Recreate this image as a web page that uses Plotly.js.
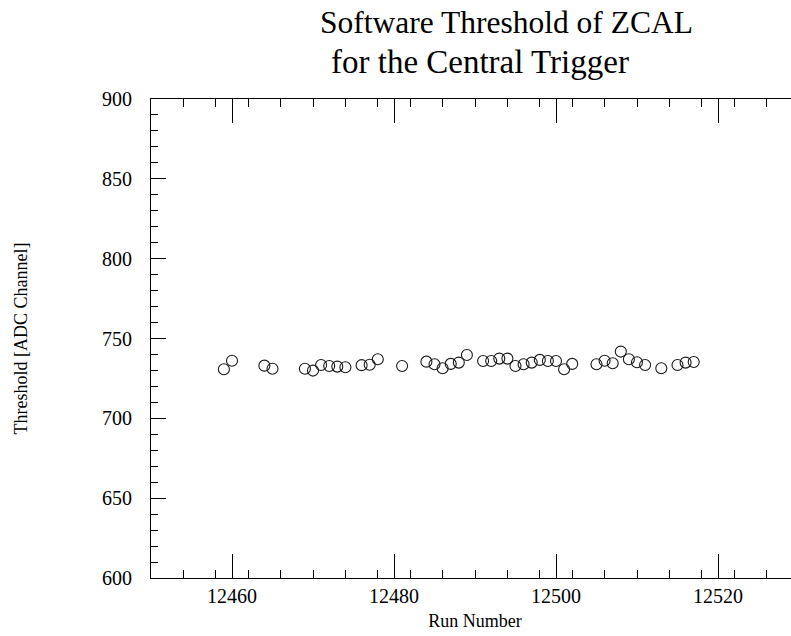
<!DOCTYPE html>
<html>
<head>
<meta charset="utf-8">
<script src="https://cdn.plot.ly/plotly-3.0.1.min.js"></script>
<style>
  html, body { margin: 0; padding: 0; overflow: hidden; background: #fff; }
  #chart { width: 810px; height: 636px; }
</style>
</head>
<body>
<div id="chart"></div>
<script>
// Run numbers and the software threshold (ADC channel) measured for each run
const runs = [12459, 12460, 12464, 12465, 12469, 12470, 12471, 12472, 12473, 12474,
              12476, 12477, 12478, 12481, 12484, 12485, 12486, 12487, 12488, 12489,
              12491, 12492, 12493, 12494, 12495, 12496, 12497, 12498, 12499, 12500,
              12501, 12502, 12505, 12506, 12507, 12508, 12509, 12510, 12511, 12513,
              12515, 12516, 12517];
const thresholds = [730.7, 736.1, 733.0, 731.1, 731.1, 729.9, 733.4, 732.8, 732.4, 732.0,
                    733.3, 733.6, 737.0, 732.8, 735.5, 733.9, 731.4, 734.1, 734.9, 739.7,
                    735.9, 735.9, 737.4, 737.4, 732.8, 733.9, 734.9, 736.6, 735.9, 735.9,
                    730.7, 734.1, 733.9, 736.1, 734.5, 741.8, 737.0, 735.1, 733.4, 731.4,
                    733.4, 734.9, 735.3];

const titleLines = ['Software Threshold of ZCAL', 'for the Central Trigger'];
const xTitle = 'Run Number';
const yTitle = 'Threshold [ADC Channel]';
const xTicks = [12460, 12480, 12500, 12520];
const yTicks = [600, 650, 700, 750, 800, 850, 900];

const serif = 'Liberation Serif, Times New Roman, Times, serif';

const trace = {
  type: 'scatter',
  mode: 'markers',
  x: runs,
  y: thresholds,
  marker: {
    symbol: 'circle-open',
    size: 11,
    color: '#1a1a1a',
    line: { width: 1.1, color: '#1a1a1a' }
  },
  hoverinfo: 'x+y'
};

// plot area spans pixels 151..799 horizontally, 99..578 vertically
const L = 151, R = 799, T = 99, B = 578, W = 810, H = 636;
const px2x = p => (p - L) / (R - L);
const px2y = p => (B - p) / (B - T);

const layout = {
  width: W,
  height: H,
  margin: { l: L, r: W - R, t: T, b: H - B, pad: 0 },
  paper_bgcolor: '#ffffff',
  plot_bgcolor: '#ffffff',
  showlegend: false,
  font: { family: serif, size: 20, color: '#000' },
  xaxis: {
    range: [12450, 12530],
    tickmode: 'array',
    tickvals: xTicks,
    ticktext: xTicks.map(String),
    ticks: 'inside',
    ticklen: 24,
    tickwidth: 1,
    tickcolor: '#000',
    showline: true,
    linecolor: '#000',
    linewidth: 1,
    mirror: 'ticks',
    showgrid: false,
    zeroline: false,
    automargin: false,
    ticklabelstandoff: 0,
    tickfont: { family: serif, size: 20, color: '#000' },
    minor: { tick0: 12450, dtick: 4, ticks: 'inside', ticklen: 8, tickwidth: 1, tickcolor: '#000', showgrid: false },
    title: { text: xTitle, font: { family: serif, size: 18, color: '#000' }, standoff: 8 }
  },
  yaxis: {
    range: [600, 900],
    tickmode: 'array',
    tickvals: yTicks,
    ticktext: yTicks.map(String),
    ticks: 'inside',
    ticklen: 15,
    tickwidth: 1,
    tickcolor: '#000',
    showline: true,
    linecolor: '#000',
    linewidth: 1,
    mirror: true,
    showgrid: false,
    zeroline: false,
    automargin: false,
    ticklabelstandoff: 14,
    tickfont: { family: serif, size: 20, color: '#000' },
    minor: { tick0: 600, dtick: 10, ticks: 'inside', ticklen: 7, tickwidth: 1, tickcolor: '#000', showgrid: false },
    title: { text: yTitle, font: { family: serif, size: 18, color: '#000' }, standoff: 69 }
  },
  // right-hand frame ticks (longer major ticks than on the left)
  yaxis2: {
    overlaying: 'y',
    side: 'right',
    anchor: 'x',
    range: [600, 900],
    tickmode: 'array',
    tickvals: yTicks,
    ticks: 'inside',
    ticklen: 24,
    tickwidth: 1,
    tickcolor: '#000',
    showticklabels: false,
    showline: false,
    showgrid: false,
    zeroline: false,
    automargin: false,
    minor: { tick0: 600, dtick: 10, ticks: 'inside', ticklen: 8, tickwidth: 1, tickcolor: '#000', showgrid: false }
  },
  annotations: [
    {
      text: titleLines[0], xref: 'paper', yref: 'paper',
      x: px2x(318), y: px2y(23), xanchor: 'left', yanchor: 'middle',
      showarrow: false, font: { family: serif, size: 31.5, color: '#000' }
    },
    {
      text: titleLines[1], xref: 'paper', yref: 'paper',
      x: px2x(329), y: px2y(62), xanchor: 'left', yanchor: 'middle',
      showarrow: false, font: { family: serif, size: 33, color: '#000' }
    }
  ]
};

Plotly.newPlot('chart', [trace], layout, { displayModeBar: false, staticPlot: true });
</script>
</body>
</html>
